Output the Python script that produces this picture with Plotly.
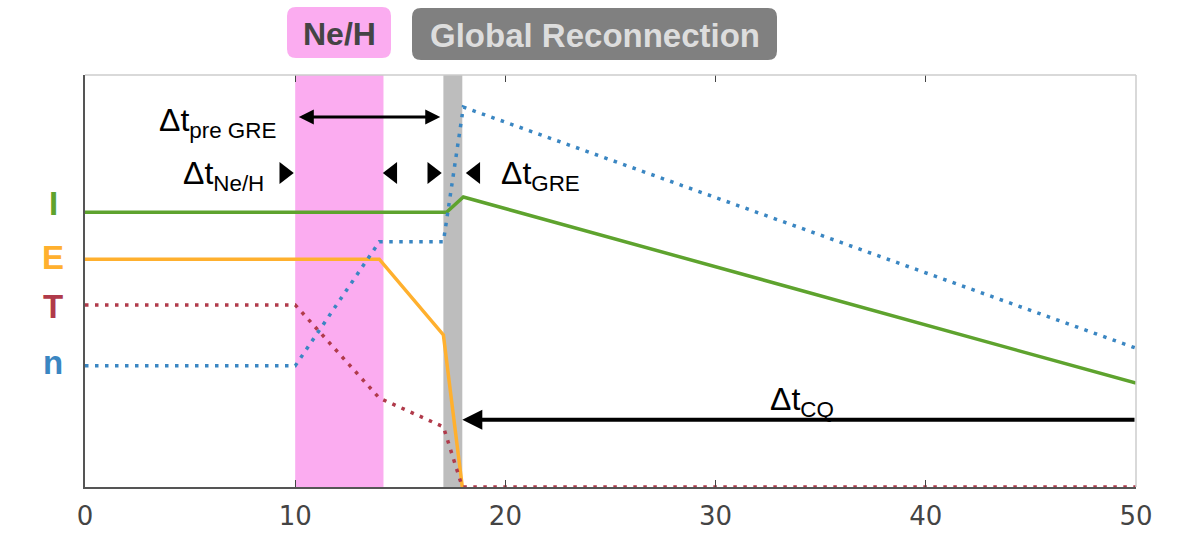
import plotly.graph_objects as go

# Time axis (ms) and normalised signal levels
t_I = [0, 17.2, 18, 50]
I = [66.7, 66.7, 70.4, 25.2]
t_E = [0, 14, 17.05, 17.95]
E = [55.3, 55.3, 36.9, 0]
t_T = [0, 10, 14, 17.05, 17.95, 50]
T = [44.2, 44.2, 21.6, 14.6, 0, 0]
t_n = [0, 10, 14, 17.05, 18, 50]
n = [29.4, 29.4, 59.5, 59.5, 92.2, 33.7]

phase_neh = [10, 14.2]
phase_gre = [17.05, 17.95]
x_ticks = [0, 10, 20, 30, 40, 50]
signal_labels = ["I", "E", "T", "n"]
signal_label_y = [68.9, 55.6, 43.9, 30.3]

C_I = "#5ea32e"
C_E = "#ffb02e"
C_T = "#b03a4a"
C_n = "#3a86c2"
label_colors = [C_I, C_E, C_T, C_n]

X0, X1 = 0, 50
Y0, Y1 = 0, 100
PW, PH = 1051.0, 412.0  # plot area size in pixels

fig = go.Figure()

dot = "3.5px,6.5px"
fig.add_trace(go.Scatter(x=t_I, y=I, mode="lines", line=dict(color=C_I, width=3.5)))
fig.add_trace(go.Scatter(x=t_E, y=E, mode="lines", line=dict(color=C_E, width=3.5)))
fig.add_trace(go.Scatter(x=t_T, y=T, mode="lines", line=dict(color=C_T, width=3.5, dash=dot)))
fig.add_trace(go.Scatter(x=t_n, y=n, mode="lines", line=dict(color=C_n, width=3.5, dash=dot)))

# small interval markers
fig.add_trace(go.Scatter(x=[9.48, 16.52], y=[76.2, 76.2], mode="markers",
                         marker=dict(symbol="triangle-right", size=19, color="black")))
fig.add_trace(go.Scatter(x=[14.62, 18.57], y=[76.2, 76.2], mode="markers",
                         marker=dict(symbol="triangle-left", size=19, color="black")))

shapes = [
    dict(type="rect", xref="x", yref="y", x0=phase_neh[0], x1=phase_neh[1], y0=Y0, y1=Y1,
         fillcolor="#fbacf0", line_width=0, layer="below"),
    dict(type="rect", xref="x", yref="y", x0=phase_gre[0], x1=phase_gre[1], y0=Y0, y1=Y1,
         fillcolor="#bdbdbd", line_width=0, layer="below"),
    # light top and right frame
    dict(type="line", xref="paper", yref="paper", x0=0, x1=1, y0=1, y1=1,
         line=dict(color="#cccccc", width=1.5)),
    dict(type="line", xref="paper", yref="paper", x0=1, x1=1, y0=0, y1=1,
         line=dict(color="#cccccc", width=1.5)),
]


def rounded_box(px0, px1, py0, py1, r, color):
    # px: pixels from plot left, py: pixels above plot top
    x0, x1 = px0 / PW, px1 / PW
    y0, y1 = 1 + py0 / PH, 1 + py1 / PH
    rx, ry = r / PW, r / PH
    path = (f"M {x0+rx},{y0} L {x1-rx},{y0} Q {x1},{y0} {x1},{y0+ry} "
            f"L {x1},{y1-ry} Q {x1},{y1} {x1-rx},{y1} L {x0+rx},{y1} "
            f"Q {x0},{y1} {x0},{y1-ry} L {x0},{y0+ry} Q {x0},{y0} {x0+rx},{y0} Z")
    return dict(type="path", xref="paper", yref="paper", path=path,
                fillcolor=color, line_width=0, layer="above")


shapes.append(rounded_box(202, 306, 17, 68, 9, "#fbacf0"))
shapes.append(rounded_box(327, 692, 15, 67, 9, "#808080"))

FONT = "Liberation Sans, Arial"
annotations = [
    dict(xref="paper", yref="paper", x=254 / PW, y=1 + 41 / PH, xanchor="center", yanchor="middle",
         text="<b>Ne/H</b>", showarrow=False, font=dict(family=FONT, size=32, color="#444444")),
    dict(xref="paper", yref="paper", x=509.5 / PW, y=1 + 40 / PH, xanchor="center", yanchor="middle",
         text="<b>Global Reconnection</b>", showarrow=False,
         font=dict(family=FONT, size=33, color="#dddddd")),
    # double arrow for pre-GRE interval
    dict(x=16.9, y=89.8, ax=10.1, ay=89.8, xref="x", yref="y", axref="x", ayref="y",
         text="", showarrow=True, arrowhead=2, startarrowhead=2, arrowside="end+start",
         arrowwidth=3, arrowsize=1, startarrowsize=1, arrowcolor="black"),
    # current quench arrow
    dict(x=17.95, y=16.3, ax=50, ay=16.3, xref="x", yref="y", axref="x", ayref="y",
         text="", showarrow=True, arrowhead=2, arrowwidth=4, arrowsize=1, arrowcolor="black"),
    dict(x=9.2, y=88.5, xref="x", yref="y", xanchor="right", yanchor="middle", showarrow=False,
         text="Δt<sub>pre GRE</sub>", font=dict(family=FONT, size=32, color="black")),
    dict(x=8.6, y=75.5, xref="x", yref="y", xanchor="right", yanchor="middle", showarrow=False,
         text="Δt<sub>Ne/H</sub>", font=dict(family=FONT, size=32, color="black")),
    dict(x=19.7, y=75.5, xref="x", yref="y", xanchor="left", yanchor="middle", showarrow=False,
         text="Δt<sub>GRE</sub>", font=dict(family=FONT, size=32, color="black")),
    dict(x=32.5, y=20.8, xref="x", yref="y", xanchor="left", yanchor="middle", showarrow=False,
         text="Δt<sub>CQ</sub>", font=dict(family=FONT, size=32, color="black")),
]

for lab, yv, col in zip(signal_labels, signal_label_y, label_colors):
    annotations.append(dict(x=-32 / PW, y=yv, xref="paper", yref="y", showarrow=False,
                            xanchor="center", yanchor="middle", text=f"<b>{lab}</b>",
                            font=dict(family=FONT, size=33, color=col)))

fig.update_layout(
    width=1179, height=536,
    margin=dict(l=85, r=43, t=75, b=49, autoexpand=False),
    paper_bgcolor="white", plot_bgcolor="white",
    showlegend=False,
    shapes=shapes, annotations=annotations,
    xaxis=dict(range=[X0, X1], tickvals=x_ticks, ticks="inside", ticklen=7, tickwidth=1.2,
               tickcolor="#444", showline=True, linecolor="#555", linewidth=2,
               showgrid=False, zeroline=False, ticklabelstandoff=5, automargin=False,
               tickfont=dict(family="DejaVu Sans", size=26, color="#444")),
    xaxis2=dict(range=[X0, X1], tickvals=x_ticks, ticks="inside", ticklen=7, tickwidth=1.2,
                tickcolor="#444", overlaying="x", side="top", showticklabels=False,
                showline=False, showgrid=False, zeroline=False, automargin=False),
    yaxis=dict(range=[Y0, Y1], showticklabels=False, ticks="", showline=True, linecolor="#555",
               linewidth=2, showgrid=False, zeroline=False, automargin=False),
)
# anchor the top tick axis with an invisible trace
fig.add_trace(go.Scatter(x=[0], y=[0], xaxis="x2", mode="markers", marker=dict(opacity=0),
                         hoverinfo="skip"))

fig.write_html("out.html")
